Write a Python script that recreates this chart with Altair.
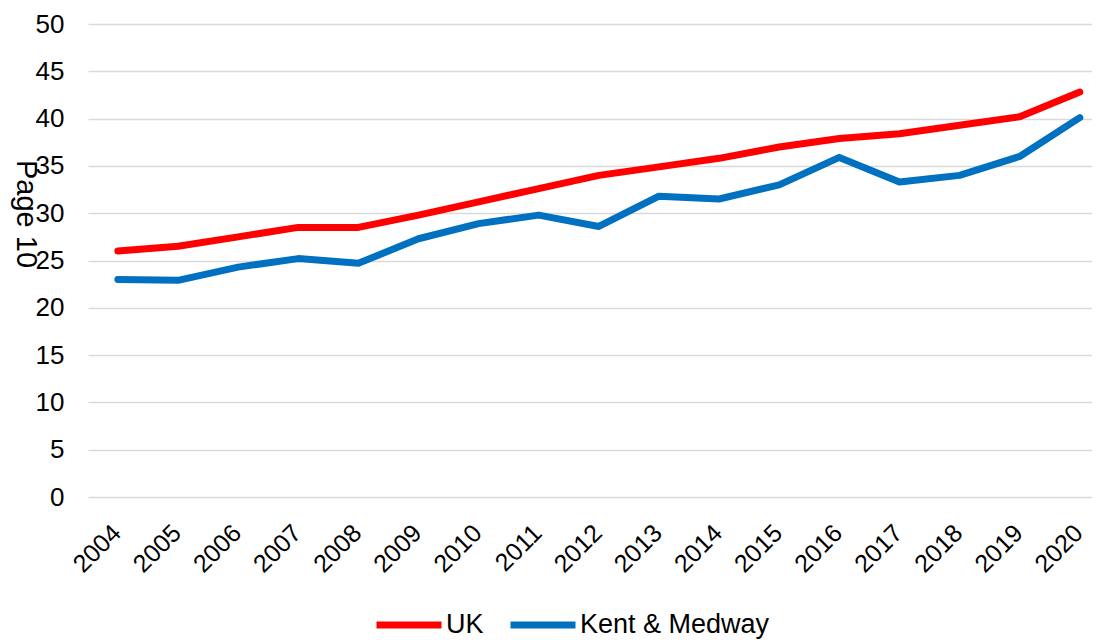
import altair as alt
import pandas as pd

years = [str(y) for y in range(2004, 2021)]
uk = [26.0, 26.5, 27.5, 28.5, 28.5, 29.8, 31.2, 32.6, 34.0, 34.9, 35.8, 37.0, 37.9, 38.4, 39.3, 40.2, 42.8]
kent = [23.0, 22.9, 24.3, 25.2, 24.7, 27.3, 28.9, 29.8, 28.6, 31.8, 31.5, 33.0, 35.9, 33.3, 34.0, 36.0, 40.1]
series = ["UK", "Kent & Medway"]
colors = ["#FF0000", "#0070C0"]
y_ticks = list(range(0, 51, 5))

rows = []
for name, vals in zip(series, [uk, kent]):
    for yr, v in zip(years, vals):
        rows.append({"Year": yr, "Value": v, "Series": name})
df = pd.DataFrame(rows)

FONT = "Liberation Sans"

lines = alt.Chart(df).mark_line(strokeWidth=7, strokeCap="round", strokeJoin="round").encode(
    x=alt.X("Year:N", sort=years, title=None,
            scale=alt.Scale(type="point", padding=0.35, align=0.71),
            axis=alt.Axis(labelAngle=-45, labelFontSize=25, labelColor="#000000", labelFont=FONT,
                          ticks=False, domain=False, grid=False, labelPadding=23, labelOffset=-10)),
    y=alt.Y("Value:Q", title=None, scale=alt.Scale(domain=[0, 50], nice=False),
            axis=alt.Axis(values=y_ticks, labelFontSize=26, labelColor="#000000", labelFont=FONT,
                          ticks=False, domain=False, gridColor="#d9d9d9", gridWidth=1.5,
                          labelPadding=24)),
    color=alt.Color("Series:N", sort=series,
                    scale=alt.Scale(domain=series, range=colors),
                    legend=alt.Legend(title=None, orient="none", legendX=285, legendY=565,
                                      direction="horizontal", symbolType="stroke",
                                      symbolSize=4225, symbolStrokeWidth=7,
                                      labelFontSize=27, labelFont=FONT, labelColor="#000000",
                                      labelOffset=1, columnPadding=12, labelLimit=0)),
    order=alt.Order("Series:N"),
)

page = alt.Chart(pd.DataFrame({"t": ["Page 10"]})).mark_text(
    angle=90, fontSize=29, font=FONT, color="#000000", align="center", baseline="middle"
).encode(text="t:N", x=alt.value(-62), y=alt.value(190))

chart = alt.layer(lines, page).properties(
    width=1004, height=473,
    autosize=alt.AutoSizeParams(type="none"),
    padding={"left": 80, "top": 16, "right": 0, "bottom": 146},
).configure_view(stroke=None)

chart.save("out.html", embed_options={"renderer": "svg", "actions": False})
